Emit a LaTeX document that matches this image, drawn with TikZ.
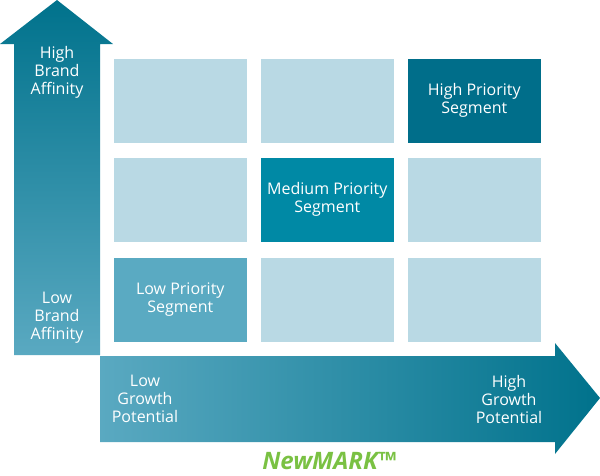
\documentclass[tikz,border=0pt]{standalone}
\usepackage{fontspec}
\setmainfont{Open Sans}
\definecolor{cellL}{HTML}{B9D9E4}
\definecolor{cellH}{HTML}{006E8A}
\definecolor{cellM}{HTML}{0089A5}
\definecolor{cellLo}{HTML}{5AAAC2}
\definecolor{arrDark}{HTML}{00728C}
\definecolor{arrLight}{HTML}{5AA9C1}
\definecolor{brand}{HTML}{7AC143}
\begin{document}
\begin{tikzpicture}[x=1pt,y=-1pt,
  cell/.style={minimum width=134pt,minimum height=85pt,inner sep=0pt,anchor=north west,text=white,align=center,font=\fontsize{16}{18}\selectfont,draw=white,line width=0.6pt},
  lbl/.style={text=white,align=center,font=\fontsize{16}{18}\selectfont}]
\useasboundingbox (0,0) rectangle (600,475);
% vertical arrow
\shade[top color=arrDark,bottom color=arrLight]
  (57,0) -- (113,44) -- (100,44) -- (100,355) -- (14,355) -- (14,44) -- (0,44) -- cycle;
% horizontal arrow
\shade[left color=arrLight,right color=arrDark]
  (100,356) -- (555,356) -- (555,343) -- (600,398) -- (555,454) -- (555,442) -- (100,442) -- cycle;
% grid
\node[cell,fill=cellL] (c11) at (113,58) {};
\node[cell,fill=cellL] (c12) at (260,58) {};
\node[cell,fill=cellH] (c13) at (407,58) {High Priority\\Segment};
\node[cell,fill=cellL] (c21) at (113,157) {};
\node[cell,fill=cellM] (c22) at (260,157) {Medium Priority\\Segment};
\node[cell,fill=cellL] (c23) at (407,157) {};
\node[cell,fill=cellLo] (c31) at (113,257) {Low Priority\\Segment};
\node[cell,fill=cellL] (c32) at (260,257) {};
\node[cell,fill=cellL] (c33) at (407,257) {};
% labels
\node[lbl] (hba) at (57,72) {High\\Brand\\Affinity};
\node[lbl] (lba) at (57,318) {Low\\Brand\\Affinity};
\node[lbl] (lgp) at (145,399) {Low\\Growth\\Potential};
\node[lbl] (hgp) at (509,399) {High\\Growth\\Potential};
\node[text=brand,inner sep=0pt,text depth=0pt,anchor=base,font=\fontsize{24}{28}\selectfont\bfseries\itshape] (logo) at (329,469) {NewMARK™};
\end{tikzpicture}
\end{document}
